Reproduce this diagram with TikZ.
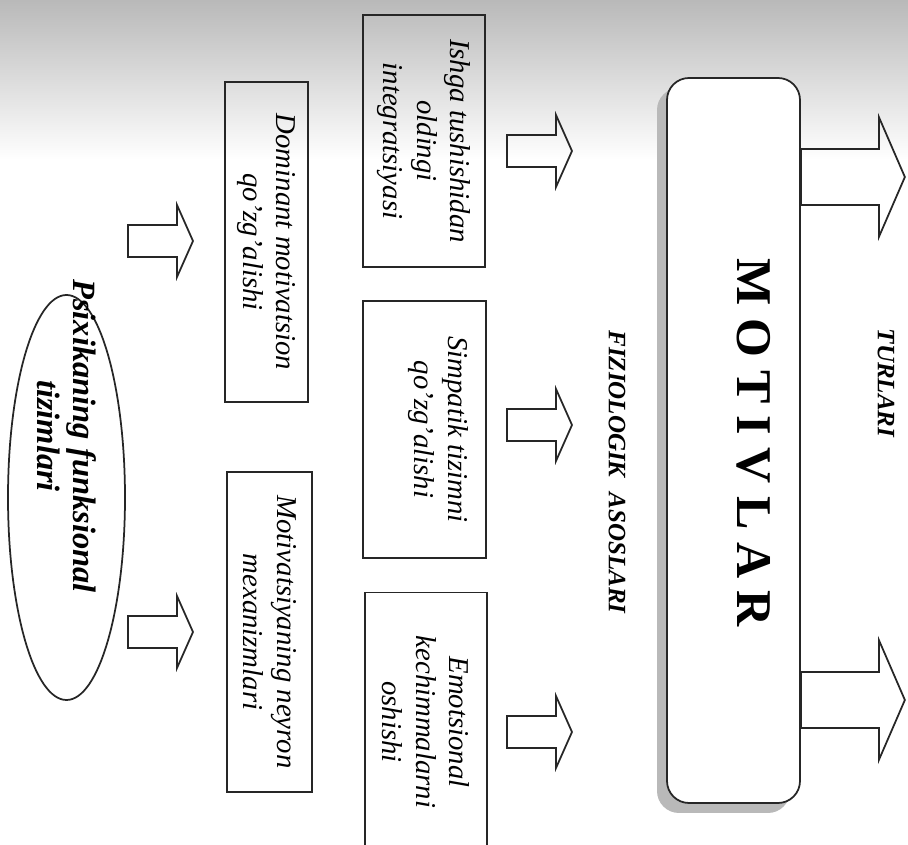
\documentclass[tikz,border=0pt]{standalone}
\usepackage{fontspec}
\setmainfont{Liberation Serif}
\usepackage{tikz}
\usetikzlibrary{positioning, calc, shapes.geometric}

\begin{document}
\begin{tikzpicture}[
  x=0.4pt, y=-0.4pt,
  box/.style={draw=black!85, line width=0.7pt, rotate=-90, inner sep=0pt, align=center, font=\itshape\fontsize{11.5}{13.5}\selectfont},
  oval/.style={draw=black!85, line width=0.7pt, ellipse, inner sep=0pt, minimum width=46.8pt, minimum height=162pt},
  mainbox/.style={draw=black!85, line width=0.7pt, fill=white, rounded corners=8.8pt, inner sep=0pt, minimum width=53.2pt, minimum height=290pt},
  caption/.style={rotate=-90, inner sep=0pt, font=\bfseries\itshape\fontsize{10}{12}\selectfont},
  hollow/.style={draw=black!85, line width=0.7pt, line join=miter},
]
\clip (0,0) rectangle (908,845);
\shade[top color=gray!55, bottom color=white] (0,0) rectangle (908,160);

\node[oval] (psix) at (66.5,497.5) {};
\node[rotate=-90, align=center, inner sep=0pt, font=\bfseries\itshape\fontsize{13}{14.5}\selectfont] (psixtxt) at (67,436) {Psixikaning funksional\\tizimlari};

\node[box, minimum width=128pt, minimum height=33.2pt] (dominant) at (266.5,242) {Dominant motivatsion\\qo'zg'alishi};
\node[box, minimum width=128pt, minimum height=34pt] (neyron) at (269.5,632) {Motivatsiyaning neyron\\mexanizmlari};

\node[box, minimum width=100.8pt, minimum height=48.8pt] (ishga) at (424,141) {Ishga tushishidan\\oldingi\\integratsiyasi};
\node[box, minimum width=102.8pt, minimum height=49.2pt] (simpatik) at (424.5,429.5) {Simpatik tizimni\\qo'zg'alishi\\\mbox{}};
\node[box, minimum width=103.6pt, minimum height=48.8pt] (emots) at (426,722) {Emotsional\\kechimmalarni\\oshishi};

\node[caption] (fiziol) at (617,472) {FIZIOLOGIK\hspace{0.6em}ASOSLARI};

\coordinate (motivc) at (733.5,440.5);
\fill[gray!55, rounded corners=8.8pt] ($(motivc)+(-76.5,-352.5)$) rectangle ($(motivc)+(56.5,372.5)$);
\node[mainbox] (motiv) at (motivc) {};
\node[rotate=-90, inner sep=0pt, font=\bfseries\fontsize{20}{24}\selectfont] (motivtxt) at (754,443) {M O T I V L A R};

\node[caption] (turlar) at (886,383) {TURLARI};

\foreach \x/\c in {128/241, 128/632, 507/151, 507/425, 507/732}
  \draw[hollow] (\x,\c-16) -- ++(49,0) -- ++(0,-20) -- ++(16,36) -- ++(-16,36) -- ++(0,-20) -- ++(-49,0) -- cycle;

\foreach \c in {177,700} {
  \coordinate (out) at (motiv.east |- 0,\c);
  \draw[hollow] ($(out)+(0,-28)$) -- ++(78,0) -- ++(0,-32) -- ++(26,60) -- ++(-26,60) -- ++(0,-32) -- ++(-78,0) -- cycle;
}
\end{tikzpicture}
\end{document}
